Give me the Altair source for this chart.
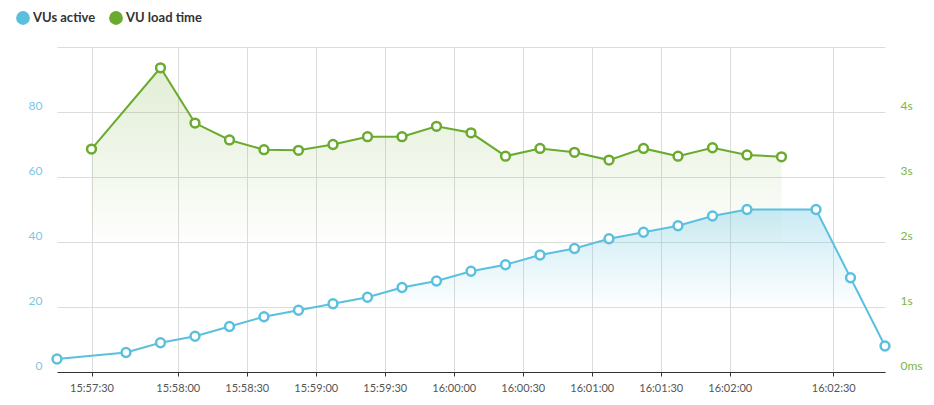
import altair as alt
import pandas as pd

# ---- data ----
series_names = ["VUs active", "VU load time"]
series_colors = ["#5bc0de", "#6aaa2e"]

vu_idx = [0, 2, 3, 4, 5, 6, 7, 8, 9, 10, 11, 12, 13, 14, 15, 16, 17, 18, 19, 20, 22, 23, 24]
vu_active = [4, 6, 9, 11, 14, 17, 19, 21, 23, 26, 28, 31, 33, 36, 38, 41, 43, 45, 48, 50, 50, 29, 8]

lt_idx = [1, 3, 4, 5, 6, 7, 8, 9, 10, 11, 12, 13, 14, 15, 16, 17, 18, 19, 20, 21]
load_time_s = [3.43, 4.68, 3.83, 3.57, 3.42, 3.41, 3.50, 3.62, 3.62, 3.78,
               3.68, 3.32, 3.44, 3.38, 3.26, 3.44, 3.32, 3.45, 3.34, 3.31]

tick_pos = [1, 3.5, 5.5, 7.5, 9.5, 11.5, 13.5, 15.5, 17.5, 19.5, 22.5]
tick_labels = ["15:57:30", "15:58:00", "15:58:30", "15:59:00", "15:59:30", "16:00:00",
               "16:00:30", "16:01:00", "16:01:30", "16:02:00", "16:02:30"]

grid_ticks = [0, 20, 40, 60, 80, 100]
right_ticks = [0, 1, 2, 3, 4]

vu_df = pd.DataFrame({"idx": vu_idx, "val": vu_active, "series": series_names[0]})
lt_df = pd.DataFrame({"idx": lt_idx, "val": load_time_s, "series": series_names[1]})

FONT = "Lato"
BLUE, GREEN = series_colors

label_expr = "[" + ",".join("'" + t + "'" for t in tick_labels) + "][indexof([" + \
    ",".join(str(p) for p in tick_pos) + "], datum.value)]"

x_enc = alt.X("idx:Q",
              scale=alt.Scale(domain=[0, 24], nice=False, zero=False),
              axis=alt.Axis(values=tick_pos, labelExpr=label_expr, title=None,
                            grid=True, gridColor="#dcdcdc", gridWidth=1,
                            domainColor="#333333", domainWidth=1,
                            tickColor="#333333", tickSize=4, labelPadding=6,
                            labelColor="#555555", labelFontSize=11, labelFont=FONT,
                            labelFlush=False))

color_enc = alt.Color("series:N",
                      scale=alt.Scale(domain=series_names, range=series_colors),
                      legend=alt.Legend(title=None, orient="none", direction="horizontal",
                                        legendX=-41, legendY=-36, padding=0,
                                        symbolType="circle", symbolSize=190,
                                        symbolStrokeWidth=0, symbolOpacity=1,
                                        labelFont=FONT, labelFontSize=13,
                                        labelFontWeight="bold", labelColor="#333333",
                                        labelOffset=3, columnPadding=13))

def grad(rgb, a0, off):
    return alt.Gradient(gradient="linear",
                        stops=[alt.GradientStop(color=f"rgba({rgb},{a0})", offset=0),
                               alt.GradientStop(color=f"rgba({rgb},0)", offset=off),
                               alt.GradientStop(color=f"rgba({rgb},0)", offset=1)],
                        x1=1, x2=1, y1=0, y2=1)

# ---- blue (left axis) ----
y_left = alt.Y("val:Q", scale=alt.Scale(domain=[0, 100], nice=False),
               axis=alt.Axis(orient="left", values=grid_ticks, title=None,
                             labelExpr="datum.value == 100 ? '' : datum.label",
                             grid=True, gridColor="#dcdcdc", gridWidth=1,
                             domain=False, ticks=False, labelPadding=15,
                             labelBaseline="bottom", labelColor="#7dc6e3",
                             labelFontSize=12, labelFont=FONT))

blue_area = alt.Chart(vu_df).mark_area(color=grad("91,192,222", 0.32, 0.62)).encode(x=x_enc, y=y_left)
blue_line = alt.Chart(vu_df).mark_line(strokeWidth=2, color=BLUE).encode(x=x_enc, y=y_left)
blue_pts = alt.Chart(vu_df).mark_point(shape="circle", filled=False, fill="white", stroke=BLUE,
                                       strokeWidth=2.5, size=78, opacity=1).encode(x=x_enc, y=y_left)
blue_legend = alt.Chart(vu_df).mark_circle(size=0, opacity=0).encode(x=x_enc, y=y_left, color=color_enc)
blue = alt.layer(blue_area, blue_line, blue_pts, blue_legend)

# ---- green (right axis) ----
y_right = alt.Y("val:Q", scale=alt.Scale(domain=[0, 5], nice=False),
                axis=alt.Axis(orient="right", values=right_ticks, title=None,
                              labelExpr="datum.value == 0 ? '0ms' : datum.value + 's'",
                              grid=False, domain=False, ticks=False, labelPadding=15,
                              labelBaseline="bottom", labelColor="#7ab648",
                              labelFontSize=12, labelFont=FONT))

green_area = alt.Chart(lt_df).mark_area(color=grad("106,170,46", 0.2, 0.6)).encode(x=x_enc, y=y_right)
green_line = alt.Chart(lt_df).mark_line(strokeWidth=2, color=GREEN).encode(x=x_enc, y=y_right)
green_pts = alt.Chart(lt_df).mark_point(shape="circle", filled=False, fill="white", stroke=GREEN,
                                        strokeWidth=2.5, size=78, opacity=1).encode(x=x_enc, y=y_right)
green_legend = alt.Chart(lt_df).mark_circle(size=0, opacity=0).encode(x=x_enc, y=y_right, color=color_enc)
green = alt.layer(green_area, green_line, green_pts, green_legend)

chart = alt.layer(green, blue).resolve_scale(y="independent").properties(
    width=828, height=325,
    autosize=alt.AutoSizeParams(type="none"),
    padding={"left": 57, "top": 47, "right": 49, "bottom": 33},
    background="white",
).configure_view(stroke=None)

chart.save("out.html", embed_options={"renderer": "svg", "actions": False})
